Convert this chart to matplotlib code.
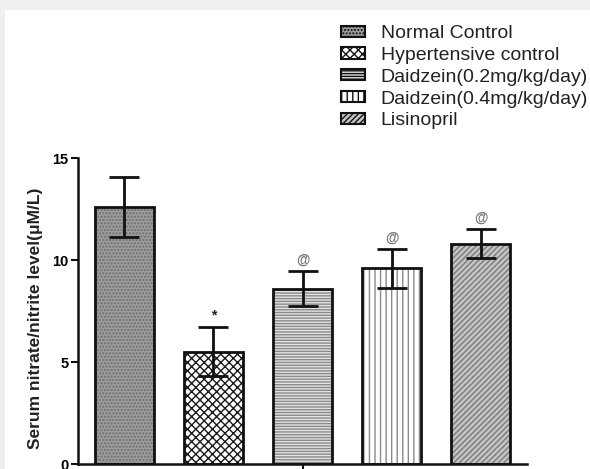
import numpy as np
import matplotlib.pyplot as plt
from matplotlib.patches import Patch, Rectangle

plt.rcParams['font.family'] = ['Liberation Sans', 'DejaVu Sans']

# values
groups = ['Normal Control', 'Hypertensive control', 'Daidzein(0.2mg/kg/day)',
          'Daidzein(0.4mg/kg/day)', 'Lisinopril']
means = [12.6, 5.5, 8.6, 9.6, 10.8]
sems = [1.45, 1.2, 0.85, 0.95, 0.72]
marks = ['', '*', '@', '@', '@']
yticks = [0, 5, 10, 15]

# fill styles per bar (face, hatch colour, hatch)
faces = ['#9c9c9c', 'white', '#e2e2e2', 'white', '#c4c4c4']
hatch_cols = ['#6e6e6e', '#1a1a1a', '#8a8a8a', '#8a8a8a', '#7a7a7a']
hatches = ['.....', 'xxxx', '------', '|||', '//////']

fig = plt.figure(figsize=(5.9, 4.69), dpi=100)
fig.patch.set_facecolor('#eeeff1')
fig.patches.append(Rectangle((5 / 590, 0), 1, 1 - 10 / 469, transform=fig.transFigure,
                             facecolor='white', edgecolor='none', zorder=-5))

ax = fig.add_axes([78 / 590, 5 / 469, 449 / 590, 306 / 469])
ax.set_facecolor('none')

x = np.arange(len(groups))
width = 0.66
# hatched fill first, then black outline on top
for i in range(len(groups)):
    ax.bar(x[i], means[i], width, color=faces[i], edgecolor=hatch_cols[i],
           hatch=hatches[i], linewidth=0, zorder=2)
ax.bar(x, means, width, facecolor='none', edgecolor='#111111', linewidth=2, zorder=3)

ax.errorbar(x, means, yerr=sems, fmt='none', ecolor='#111111', elinewidth=2,
            capsize=11, capthick=2, zorder=4)

for i, m in enumerate(marks):
    if m == '*':
        ax.text(x[i], means[i] + sems[i] + 0.25, m, ha='center', va='bottom',
                fontsize=10, fontweight='bold', color='#222222')
    elif m:
        ax.text(x[i], means[i] + sems[i] + 0.2, m, ha='center', va='bottom',
                fontsize=10, fontweight='bold', color='#777777')

ax.set_xlim(-0.52, 4.52)
ax.set_ylim(0, 15)
ax.set_yticks(yticks)
ax.set_yticklabels([str(t) for t in yticks], fontsize=10.5, fontweight='bold')
ax.set_xticks([2])
ax.set_xticklabels([''])
ax.tick_params(axis='both', direction='out', length=5, width=1.5, color='#111111', pad=2)

for side in ['top', 'right']:
    ax.spines[side].set_visible(False)
for side in ['left', 'bottom']:
    ax.spines[side].set_linewidth(1.8)
    ax.spines[side].set_color('#111111')

ax.set_ylabel('Serum nitrate/nitrite level(\u03bcM/L)', fontsize=12.5, fontweight='bold',
              color='#222222')
ax.yaxis.set_label_coords(-0.078, 0.477)

handles = [Patch(facecolor=faces[i], edgecolor='#111111', hatch=hatches[i], linewidth=1.5)
           for i in range(len(groups))]
leg = fig.legend(handles, groups, loc='upper left', bbox_to_anchor=(341 / 590, 1 - 25 / 469),
                 frameon=False, fontsize=14, handlelength=1.25, handleheight=0.5,
                 labelspacing=0.25, handletextpad=0.8, borderpad=0, borderaxespad=0)
for t in leg.get_texts():
    t.set_color('#222222')

fig.savefig('out.png', dpi=100, facecolor=fig.get_facecolor())
